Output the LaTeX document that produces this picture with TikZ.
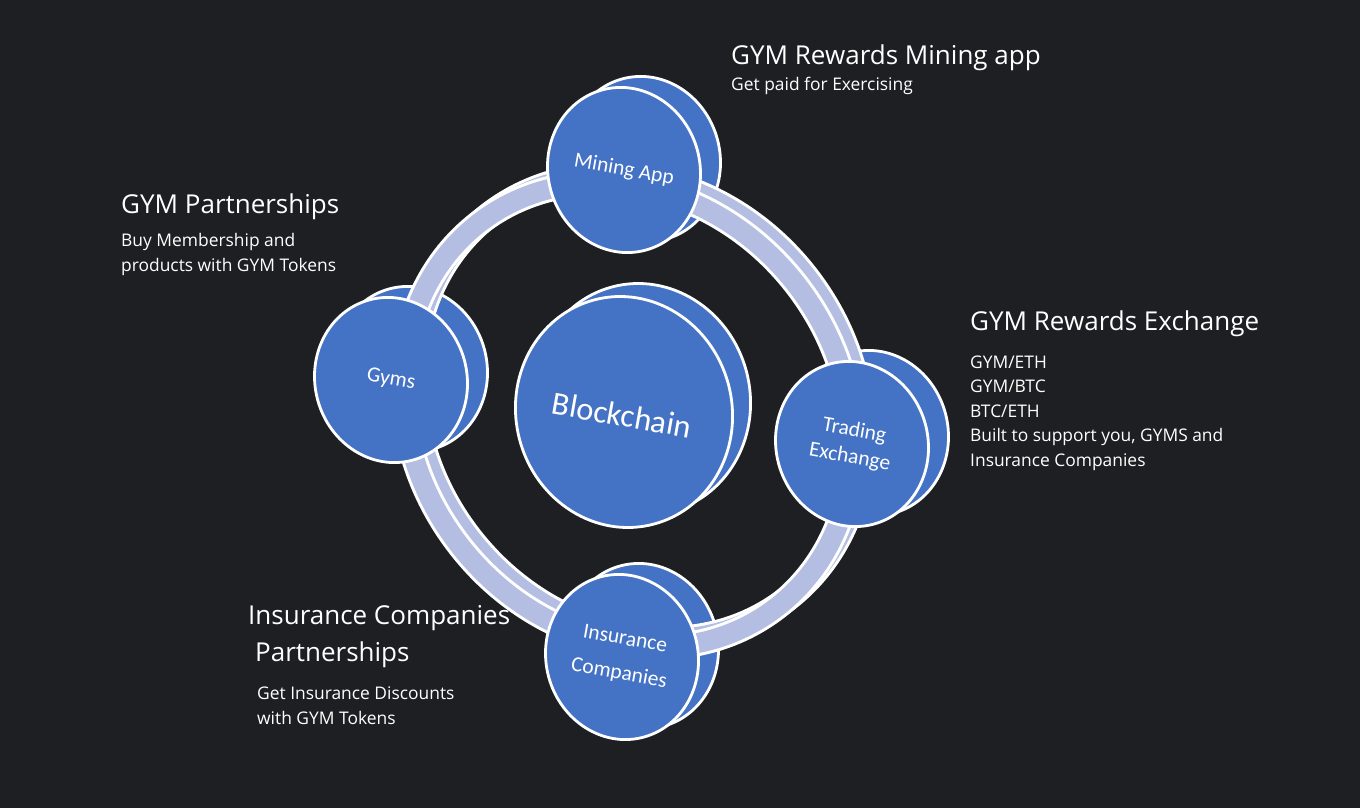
\documentclass[tikz,border=0pt]{standalone}
\usepackage{fontspec}
\setmainfont{Open Sans}
\newfontfamily\carlito{Carlito}
\usetikzlibrary{shapes.geometric}
\definecolor{bg}{RGB}{30,31,34}
\definecolor{discblue}{RGB}{68,114,196}
\definecolor{lav}{RGB}{179,190,226}
\tikzset{disc/.style={ellipse,draw=white,line width=2.8pt,fill=discblue,minimum width=152pt,minimum height=166pt,inner sep=0pt,rotate=15},
 bigdisc/.style={disc,minimum width=216pt,minimum height=232pt},
 band/.style={draw=white,line width=3pt,double=lav,double distance=20pt},
 dlbl/.style={text=white,align=center,rotate=-10,font=\carlito\fontsize{21.5}{27}\selectfont},
 ttl/.style={text=white,anchor=base west,align=left,inner sep=0pt,font=\fontsize{26}{37}\selectfont},
 txt/.style={text=white,anchor=base west,align=left,inner sep=0pt,font=\fontsize{17.4}{24.4}\selectfont}}
\begin{document}
\begin{tikzpicture}[x=1pt,y=-1pt]
\fill[bg] (0,0) rectangle (1360,808);
\useasboundingbox (0,0) rectangle (1360,808);
% back faces of the discs
\foreach \n/\x/\y in {mine/624/170,gyms/391/380,trade/852/444,insur/622/657}
  \node[disc] (\n-bk) at (\x+20,\y-11) {};
\node[bigdisc] (chain-bk) at (642,399) {};
% the ring, twice for depth
\foreach \dx/\dy in {10/-8,0/0}
  \draw[band,shift={(628+\dx,415+\dy)},rotate=-52] (0,0) ellipse [x radius=243pt,y radius=213pt];
% front faces
\foreach \n/\x/\y/\t in {mine/624/170/{Mining App},gyms/391/380/Gyms,trade/852/444/{Trading\\Exchange},insur/622/657/{Insurance\\[8pt]Companies}}{
  \node[disc] (\n) at (\x,\y) {};
  \node[dlbl] (\n-t) at (\n) {\t};}
\node[bigdisc] (chain) at (624,412) {};
\node[dlbl,font=\carlito\fontsize{32.5}{36}\selectfont] (chain-t) at (622,415) {Blockchain};
% side texts (base = last line)
\node[ttl] (mine-h) at (731,64) {GYM Rewards Mining app};
\node[txt] (mine-d) at (731,90) {Get paid for Exercising};
\node[ttl] (gyms-h) at (121,213) {GYM Partnerships};
\node[txt] (gyms-d) at (121,271) {Buy Membership and\\products with GYM Tokens};
\node[ttl] (trade-h) at (970,330) {GYM Rewards Exchange};
\node[txt] (trade-d) at (970,466) {GYM/ETH\\GYM/BTC\\BTC/ETH\\Built to support you, GYMS and\\Insurance Companies};
\node[ttl] (insur-h) at (248,661) {Insurance Companies\\\hspace*{7pt}Partnerships};
\node[txt] (insur-d) at (257,724) {Get Insurance Discounts\\with GYM Tokens};
\end{tikzpicture}
\end{document}
